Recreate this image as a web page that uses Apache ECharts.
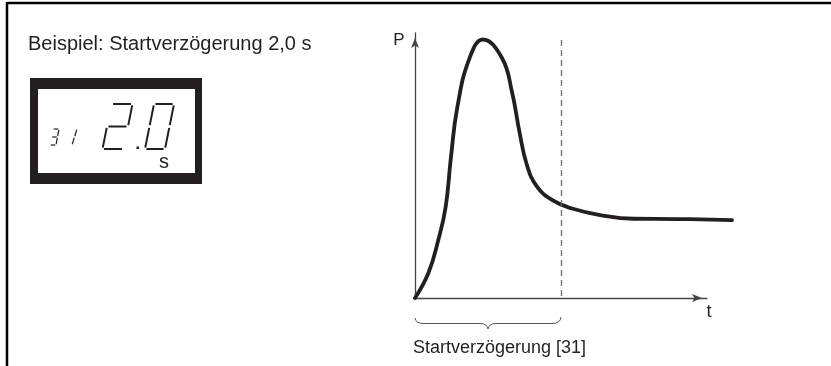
<!DOCTYPE html>
<html><head><meta charset="utf-8">
<script src="https://cdn.jsdelivr.net/npm/echarts@6/dist/echarts.min.js"></script>
<style>html,body{margin:0;padding:0;background:#fff}#c{width:831px;height:366px}</style>
</head><body><div id="c"></div>
<script>
// Time (arbitrary units, arrowed axis spans 0..100) and power (0..100)
const timeValues  = [0, 4.55, 7.98, 10.51, 12.3, 14.5, 18.66, 23.29, 29.79, 33.22, 35.8, 38.3, 41.6, 46.9, 53.77, 63.36, 75.0, 90.0, 108.56];
const powerValues = [0, 9.32, 21.89, 34.45, 53.0, 72.0, 90.45, 97.55, 90.57, 77.74, 62.5, 50.3, 42.3, 37.0, 33.77, 31.32, 29.9, 29.8, 29.4];
const delayTime = 50;
const delayLineTop = 97.4;
const titleText = 'Beispiel: Startverzögerung 2,0 s';
const braceLabel = 'Startverzögerung [31]';
const yAxisName = 'P';
const xAxisName = 't';
const unitText = 's';

const INK = '#231f20';
const FONT = "'Liberation Sans', Arial, sans-serif";

function digit(x0, y0, w, h, slant, segs, lw, gu, gv) {
  const P = (u, v) => [x0 + u * w + v * slant, y0 - v * h];
  const def = {
    a: [[gu, 1], [1 - gu, 1]],
    b: [[1, 1 - gv], [1, 0.5 + gv]],
    c: [[1, 0.5 - gv], [1, gv]],
    d: [[gu, 0], [1 - gu, 0]],
    e: [[0, 0.5 - gv], [0, gv]],
    f: [[0, 1 - gv], [0, 0.5 + gv]],
    g: [[gu, 0.5], [1 - gu, 0.5]]
  };
  return segs.split('').map(s => {
    const p1 = P(def[s][0][0], def[s][0][1]);
    const p2 = P(def[s][1][0], def[s][1][1]);
    return { type: 'line', silent: true, shape: { x1: p1[0], y1: p1[1], x2: p2[0], y2: p2[1] },
             style: { stroke: INK, lineWidth: lw, lineCap: 'butt' } };
  });
}

const graphics = [
  { type: 'line', shape: { x1: 7, y1: 3, x2: 831, y2: 3 }, style: { stroke: '#000', lineWidth: 2.5 } },
  { type: 'line', shape: { x1: 7, y1: 2, x2: 7, y2: 366 }, style: { stroke: '#000', lineWidth: 2.5 } },
  { type: 'text', x: 28, y: 44, style: { text: titleText, font: '20px ' + FONT, fill: INK, verticalAlign: 'middle', align: 'left' } },
  { type: 'rect', shape: { x: 30, y: 78, width: 172, height: 106 }, style: { fill: INK } },
  { type: 'rect', shape: { x: 38, y: 89, width: 157, height: 84 }, style: { fill: '#fff' } },
  ...digit(50, 145, 6, 16, 3, 'abgcd', 1.2, 0.12, 0.05),
  ...digit(66, 145, 6, 16, 5, 'bc', 1.2, 0.12, 0.05),
  ...digit(102.5, 149, 21, 45, 9, 'abged', 2, 0.07, 0.03),
  ...digit(145, 149, 20, 45, 9, 'abcdef', 2, 0.07, 0.03),
  { type: 'rect', shape: { x: 136.5, y: 146.5, width: 2.5, height: 2.5 }, style: { fill: INK } },
  { type: 'text', x: 164, y: 162, style: { text: unitText, font: '20px ' + FONT, fill: INK, verticalAlign: 'middle', align: 'center' } },
  { type: 'text', x: 399, y: 40, style: { text: yAxisName, font: '17px ' + FONT, fill: INK, verticalAlign: 'middle', align: 'center' } },
  { type: 'text', x: 709, y: 312, style: { text: xAxisName, font: '18px ' + FONT, fill: INK, verticalAlign: 'middle', align: 'center' } },
  { type: 'bezierCurve', shape: { x1: 415, y1: 318, cpx1: 415.5, cpy1: 323.5, x2: 424, y2: 323.5 }, style: { stroke: '#555', lineWidth: 1, fill: null } },
  { type: 'line', shape: { x1: 424, y1: 323.5, x2: 480, y2: 323.5 }, style: { stroke: '#555', lineWidth: 1 } },
  { type: 'bezierCurve', shape: { x1: 480, y1: 323.5, cpx1: 487, cpy1: 323.5, x2: 488, y2: 329 }, style: { stroke: '#555', lineWidth: 1, fill: null } },
  { type: 'bezierCurve', shape: { x1: 488, y1: 329, cpx1: 489, cpy1: 323.5, x2: 496, y2: 323.5 }, style: { stroke: '#555', lineWidth: 1, fill: null } },
  { type: 'line', shape: { x1: 496, y1: 323.5, x2: 552, y2: 323.5 }, style: { stroke: '#555', lineWidth: 1 } },
  { type: 'bezierCurve', shape: { x1: 552, y1: 323.5, cpx1: 560.5, cpy1: 323.5, x2: 561, y2: 317 }, style: { stroke: '#555', lineWidth: 1, fill: null } },
  { type: 'text', x: 413, y: 348, style: { text: braceLabel, font: '18px ' + FONT, fill: INK, verticalAlign: 'middle', align: 'left' } }
];

const axisLineStyle = { show: true, onZero: false, symbol: ['none', 'arrow'], symbolSize: [6, 10], symbolOffset: [0, -5], lineStyle: { color: '#444', width: 1.3 } };
const hidden = { axisTick: { show: false }, axisLabel: { show: false }, splitLine: { show: false } };

const chart = echarts.init(document.getElementById('c'), null, { renderer: 'canvas' });
chart.setOption({
  animation: false,
  backgroundColor: '#fff',
  grid: [
    { left: 415, top: 33, right: 124, bottom: 68 },
    { left: 415, top: 33, right: 99, bottom: 68 }
  ],
  xAxis: [
    Object.assign({ type: 'value', gridIndex: 0, min: 0, max: 100, axisLine: axisLineStyle }, hidden),
    Object.assign({ type: 'value', gridIndex: 1, min: 0, max: 108.56, axisLine: { show: false } }, hidden)
  ],
  yAxis: [
    Object.assign({ type: 'value', gridIndex: 0, min: 0, max: 100, axisLine: axisLineStyle }, hidden),
    Object.assign({ type: 'value', gridIndex: 1, min: 0, max: 100, axisLine: { show: false } }, hidden)
  ],
  series: [{
    type: 'line',
    xAxisIndex: 1, yAxisIndex: 1,
    data: timeValues.map((t, i) => [t, powerValues[i]]),
    smooth: 0.45,
    showSymbol: false,
    clip: false,
    lineStyle: { color: INK, width: 3.8, cap: 'round', join: 'round' },
    markLine: {
      silent: true, symbol: 'none', label: { show: false },
      lineStyle: { color: '#6d6d6d', width: 1.3, type: [6, 4] },
      data: [[{ coord: [delayTime, delayLineTop] }, { coord: [delayTime, 0] }]]
    }
  }],
  graphic: graphics
});
</script></body></html>
